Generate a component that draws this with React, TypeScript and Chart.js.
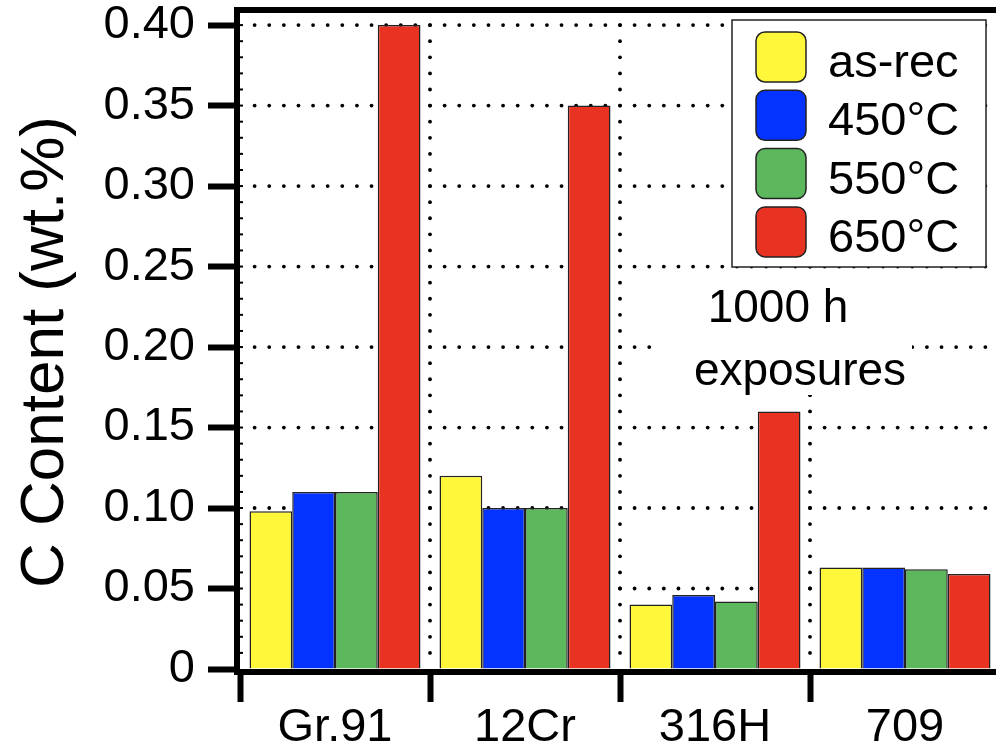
import React, { useEffect, useRef } from "react";
import { Chart, registerables } from "chart.js";

Chart.register(...registerables);

// Alloys on the x axis
const alloys = ["Gr.91", "12Cr", "316H", "709"];

// Carbon content (wt.%) per condition
const seriesLabels = ["as-rec", "450°C", "550°C", "650°C"];
const asReceived = [0.098, 0.12, 0.04, 0.063];
const exposed450 = [0.11, 0.1, 0.046, 0.063];
const exposed550 = [0.11, 0.1, 0.042, 0.062];
const exposed650 = [0.4, 0.35, 0.16, 0.059];
const seriesColors = ["#FFF73A", "#0433FF", "#5DB85D", "#E83323"];

// Axis settings
const yTickValues = [0, 0.05, 0.1, 0.15, 0.2, 0.25, 0.3, 0.35, 0.4];
const yAxisMax = 0.41;
const yMinorStep = 0.01;
const yTitle = "C Content (wt.%)";
const noteLines = ["1000 h", "exposures"];

const FONT = '"Liberation Sans", Arial, Helvetica, sans-serif';

const dottedGrid = {
  id: "dottedGrid",
  beforeDatasetsDraw(chart: any) {
    const { ctx, chartArea, scales } = chart;
    const x = scales.x;
    const y = scales.y;
    ctx.save();
    ctx.fillStyle = "#000";
    const dot = (px: number, py: number) => {
      ctx.beginPath();
      ctx.arc(px, py, 1.9, 0, Math.PI * 2);
      ctx.fill();
    };
    // horizontal dotted lines at the major ticks
    const hStep = 14.615;
    yTickValues.forEach((v) => {
      if (v <= 0) return;
      const py = y.getPixelForValue(v);
      for (let px = chartArea.left + hStep; px <= chartArea.right + 1; px += hStep) dot(px, py);
    });
    // vertical dotted lines between alloys
    for (let i = 1; i <= alloys.length; i++) {
      const px = (x.getPixelForValue(i - 1) + x.getPixelForValue(i)) / 2;
      for (let k = 1; k * yMinorStep <= 0.4 + 1e-9; k++) {
        dot(px, y.getPixelForValue(k * yMinorStep));
      }
    }
    // clear area behind the exposure note
    ctx.fillStyle = "#fff";
    ctx.fillRect(662, 280, 250, 115);
    ctx.restore();
  },
};

const frameAndNotes = {
  id: "frameAndNotes",
  afterDatasetsDraw(chart: any) {
    const { ctx, chartArea, scales } = chart;
    const y = scales.y;
    ctx.save();
    ctx.strokeStyle = "#000";
    ctx.lineWidth = 6;
    ctx.lineCap = "butt";
    // left axis
    ctx.beginPath();
    ctx.moveTo(chartArea.left - 3, chartArea.top - 2);
    ctx.lineTo(chartArea.left - 3, chartArea.bottom + 6);
    ctx.stroke();
    // top frame
    ctx.beginPath();
    ctx.moveTo(chartArea.left - 6, chartArea.top + 1);
    ctx.lineTo(chartArea.right + 10, chartArea.top + 1);
    ctx.stroke();
    // bottom axis
    ctx.beginPath();
    ctx.moveTo(chartArea.left - 6, chartArea.bottom + 3);
    ctx.lineTo(chartArea.right + 10, chartArea.bottom + 3);
    ctx.stroke();
    // minor ticks on the left axis
    ctx.lineWidth = 2;
    for (let k = 1; k * yMinorStep <= 0.4 + 1e-9; k++) {
      const py = y.getPixelForValue(k * yMinorStep);
      ctx.beginPath();
      ctx.moveTo(chartArea.left - 1, py);
      ctx.lineTo(chartArea.left + 3, py);
      ctx.stroke();
    }
    ctx.restore();
  },
  afterDraw(chart: any) {
    const { ctx } = chart;
    ctx.save();
    // y axis title
    ctx.fillStyle = "#000";
    ctx.font = `62px ${FONT}`;
    ctx.translate(63, 352);
    ctx.rotate(-Math.PI / 2);
    ctx.textAlign = "center";
    ctx.textBaseline = "alphabetic";
    ctx.fillText(yTitle, 0, 0);
    ctx.restore();

    // legend box
    ctx.save();
    ctx.fillStyle = "#fff";
    ctx.fillRect(732, 20, 254, 247);
    ctx.strokeStyle = "#222";
    ctx.lineWidth = 1.5;
    ctx.strokeRect(732, 20, 254, 247);
    chart.data.datasets.forEach((ds: any, i: number) => {
      const top = 32 + i * 58.3;
      ctx.beginPath();
      ctx.roundRect(756, top, 50, 50, 9);
      ctx.fillStyle = ds.backgroundColor;
      ctx.fill();
      ctx.strokeStyle = "#222";
      ctx.lineWidth = 1.5;
      ctx.stroke();
      ctx.fillStyle = "#000";
      ctx.font = `47px ${FONT}`;
      ctx.textAlign = "left";
      ctx.textBaseline = "alphabetic";
      ctx.fillText(ds.label, 828, top + 45);
    });

    // exposure note
    ctx.font = `46px ${FONT}`;
    ctx.textAlign = "center";
    ctx.fillText(noteLines[0], 778, 322);
    ctx.fillText(noteLines[1], 800, 385);
    ctx.restore();
  },
};

export default function App() {
  const canvasRef = useRef<HTMLCanvasElement | null>(null);

  useEffect(() => {
    if (!canvasRef.current) return;
    const seriesValues = [asReceived, exposed450, exposed550, exposed650];
    const chart = new Chart(canvasRef.current, {
      type: "bar",
      data: {
        labels: alloys,
        datasets: seriesLabels.map((label, i) => ({
          label,
          data: seriesValues[i],
          backgroundColor: seriesColors[i],
          borderColor: "#222",
          borderWidth: 1.5,
          categoryPercentage: 0.9,
          barPercentage: 1.0,
        })),
      },
      plugins: [dottedGrid, frameAndNotes],
      options: {
        responsive: false,
        animation: false,
        devicePixelRatio: 1,
        layout: { padding: { left: 0, right: 4, top: 9, bottom: 0 } },
        plugins: {
          legend: { display: false },
          tooltip: { enabled: false },
        },
        scales: {
          x: {
            type: "category",
            offset: true,
            border: { display: false },
            grid: {
              offset: true,
              drawOnChartArea: false,
              drawTicks: true,
              tickLength: 33,
              tickWidth: 6,
              tickColor: "#000",
            },
            ticks: {
              color: "#000",
              font: { family: FONT, size: 47, lineHeight: 1.2 },
              padding: -2,
              maxRotation: 0,
              autoSkip: false,
            },
            afterFit: (s: any) => {
              s.height = 84;
              s.paddingLeft = 0;
              s.paddingRight = 0;
            },
          },
          y: {
            type: "linear",
            min: 0,
            max: yAxisMax,
            border: { display: false },
            grid: {
              drawOnChartArea: false,
              drawTicks: true,
              tickLength: 32,
              tickWidth: 6,
              tickColor: "#000",
            },
            ticks: {
              stepSize: 0.05,
              color: "#000",
              padding: 13,
              font: { family: FONT, size: 47 },
              callback: (v: any) => (Number(v) === 0 ? "0" : Number(v).toFixed(2)),
            },
            afterBuildTicks: (s: any) => {
              s.ticks = yTickValues.map((v) => ({ value: v }));
            },
            afterFit: (s: any) => {
              s.width = 240;
              s.paddingTop = 0;
              s.paddingBottom = 0;
            },
          },
        },
      } as any,
    });
    return () => chart.destroy();
  }, []);

  return (
    <div
      style={{
        position: "absolute",
        left: 0,
        top: 0,
        width: 996,
        height: 753,
        overflow: "hidden",
        background: "#fff",
      }}
    >
      <canvas ref={canvasRef} width={1004} height={753} style={{ display: "block" }} />
    </div>
  );
}
